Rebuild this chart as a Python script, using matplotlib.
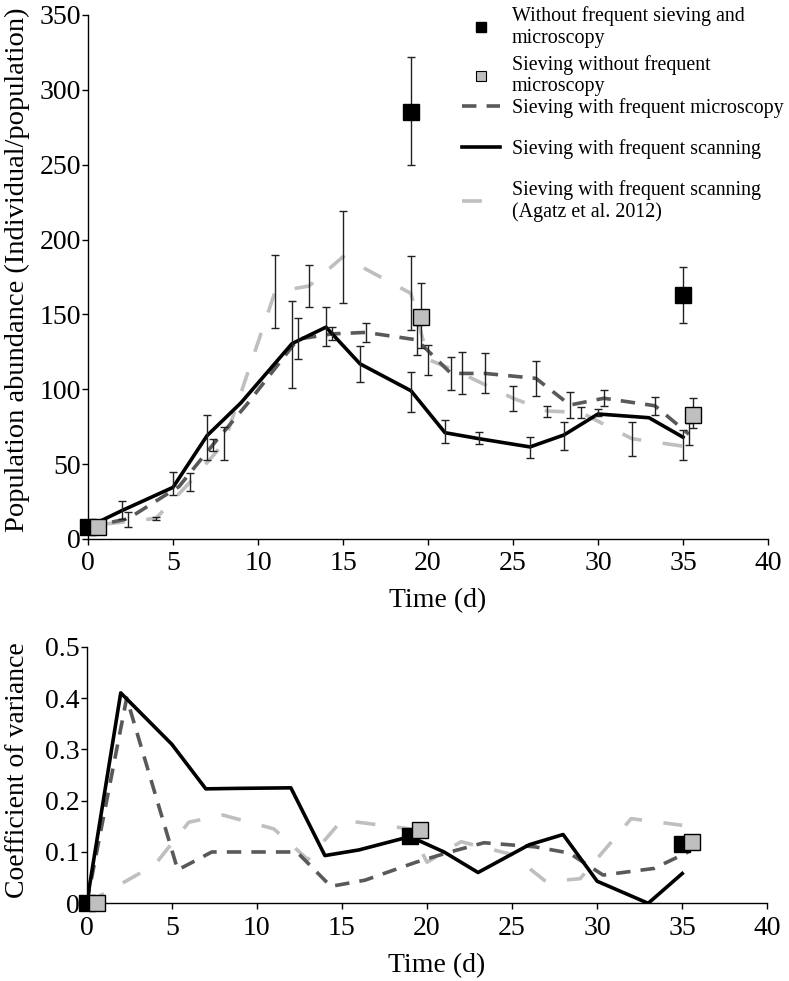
import matplotlib
matplotlib.use("Agg")
import matplotlib.pyplot as plt
import numpy as np
from matplotlib.lines import Line2D
from matplotlib.ticker import FuncFormatter

plt.rcParams["font.family"] = ["Liberation Serif", "DejaVu Serif"]

LABELS = [
    "Without frequent sieving and\nmicroscopy",
    "Sieving without frequent\nmicroscopy",
    "Sieving with frequent microscopy",
    "Sieving with frequent scanning",
    "Sieving with frequent scanning\n(Agatz et al. 2012)",
]

# --- population abundance (top) ---
# sieving with frequent scanning (black solid)
scan_t = [0, 2, 5, 7, 9, 12, 14, 16, 19, 21, 23, 26, 28, 30, 33, 35]
scan_v = [8, 19, 34.5, 69, 91, 130.5, 141.5, 117, 99, 71, 67, 61.5, 69.5, 83.5, 81, 68]
scan_err_t = [2, 5, 7, 12, 14, 16, 19, 21, 23, 26, 28, 30, 35]
scan_err_lo = [13.1, 29.4, 52.7, 100.6, 128.8, 104.6, 85, 63.9, 63.4, 53.9, 59.4, 82.3, 52.7]
scan_err_hi = [25.4, 44.9, 82.8, 158.9, 155.1, 128.8, 111.7, 79.4, 71.2, 68.3, 78.3, 86.6, 72.8]

# sieving with frequent microscopy (dark dashed)
micro_t = [0, 2.35, 5.35, 7.35, 9.35, 12.35, 14.35, 16.35, 19.35, 21.35, 23.35,
           26.35, 28.35, 30.35, 33.35, 35.35]
micro_v = [8, 13.5, 35, 63, 90, 133.5, 137, 138, 133, 110.6, 110.6, 107.3, 89.5, 94, 89, 70]
micro_err_t = [2.35, 7.35, 12.35, 14.35, 16.35, 19.35, 21.35, 23.35, 26.35, 28.35, 30.35, 33.35, 35.35]
micro_err_lo = [8.2, 59, 120, 132.8, 131.7, 122.8, 99.5, 97.3, 95.5, 80.6, 88.8, 82.8, 62.7]
micro_err_hi = [18.2, 67, 147.3, 141.3, 144.4, 142.9, 121.7, 124, 119, 98.3, 99.5, 95, 77.2]

# Agatz et al. 2012 (light grey long dash)
agatz_t = [1, 4, 6, 8, 11, 13, 15, 19, 20, 22, 25, 27, 29, 32, 35]
agatz_v = [10, 13.8, 38, 64, 165, 169, 188.5, 164, 120, 110.5, 94, 85.5, 84.5, 67, 62]
agatz_err_t = [4, 6, 8, 11, 13, 15, 19, 20, 22, 25, 27, 29, 32]
agatz_err_lo = [12.7, 32, 52.7, 141, 154.7, 157.7, 139.5, 109.5, 96.8, 85.4, 81.6, 81, 55.4]
agatz_err_hi = [14.9, 43.9, 75, 189.6, 182.9, 219, 188.9, 129.5, 124.6, 102.3, 89, 88.3, 78.3]

# without frequent sieving and microscopy (black squares)
nosieve_t = [0, 19, 35]
nosieve_v = [7.7, 285, 163]
nosieve_err_lo = [7.7, 249.6, 144]
nosieve_err_hi = [7.7, 322, 181.8]

# sieving without frequent microscopy (grey squares)
sieve_t = [0.6, 19.6, 35.6]
sieve_v = [7.7, 148.4, 82.8]
sieve_err_lo = [7.7, 127.3, 73.9]
sieve_err_hi = [7.7, 170.7, 93.9]

# --- coefficient of variance (bottom) ---
cv_scan = [0, 0.41, 0.31, 0.223, 0.224, 0.225, 0.093, 0.104, 0.13, 0.1, 0.06,
           0.114, 0.134, 0.043, 0.0, 0.058]
cv_micro = [0, 0.40, 0.065, 0.1, 0.1, 0.1, 0.033, 0.045, 0.08, 0.1, 0.118,
            0.11, 0.098, 0.055, 0.068, 0.1]
cv_agatz_t = [0, 4, 6, 8, 11, 13, 15, 19, 20, 22, 25, 27, 29, 32, 35]
cv_agatz = [0, 0.075, 0.158, 0.172, 0.145, 0.085, 0.162, 0.145, 0.08, 0.12,
            0.095, 0.042, 0.048, 0.165, 0.152]
cv_nosieve = [0, 0.131, 0.116]
cv_sieve = [0, 0.143, 0.12]

BLACK = "#000000"
DARK = "#595959"
LIGHT = "#BFBFBF"
LW = 2.6


def style_axis(ax, xlabel_y):
    for s in ["top", "right"]:
        ax.spines[s].set_visible(False)
    for s in ["left", "bottom"]:
        ax.spines[s].set_linewidth(1.0)
    ax.tick_params(direction="out", length=4, width=1, labelsize=20)
    ax.tick_params(axis="y", pad=1)
    ax.tick_params(axis="x", pad=5)
    ax.set_xlim(0, 40)
    ax.set_xticks(np.arange(0, 41, 5))
    ax.set_xlabel("Time (d)", fontsize=20)
    ax.xaxis.set_label_coords(0.514, xlabel_y)


def draw_err(ax, t, lo, hi, color="#222222"):
    lo = np.array(lo)
    hi = np.array(hi)
    ax.errorbar(t, (lo + hi) / 2, yerr=(hi - lo) / 2, fmt="none", ecolor=color,
                elinewidth=1.0, capsize=3, capthick=1.0, zorder=4)


fig = plt.figure(figsize=(7.89, 9.81), dpi=100)
ax1 = fig.add_axes([88 / 789, 1 - 539 / 981, 680 / 789, 524 / 981])
ax2 = fig.add_axes([86.7 / 789, 1 - 903.3 / 981, 680.6 / 789, 256.6 / 981])

# top
ax1.set_ylim(0, 350)
ax1.set_yticks(np.arange(0, 351, 50))
ax1.plot(agatz_t, agatz_v, color=LIGHT, lw=LW, dashes=(5.5, 6), zorder=2)
ax1.plot(micro_t, micro_v, color=DARK, lw=LW, dashes=(4, 2.8), zorder=2)
ax1.plot(scan_t, scan_v, color=BLACK, lw=LW, zorder=3)
draw_err(ax1, agatz_err_t, agatz_err_lo, agatz_err_hi)
draw_err(ax1, micro_err_t, micro_err_lo, micro_err_hi)
draw_err(ax1, scan_err_t, scan_err_lo, scan_err_hi)
draw_err(ax1, nosieve_t[1:], nosieve_err_lo[1:], nosieve_err_hi[1:])
draw_err(ax1, sieve_t[1:], sieve_err_lo[1:], sieve_err_hi[1:])
ax1.plot(nosieve_t, nosieve_v, ls="none", marker="s", ms=12, mfc=BLACK, mec=BLACK,
         zorder=5, clip_on=False)
ax1.plot(sieve_t, sieve_v, ls="none", marker="s", ms=12, mfc=LIGHT, mec=BLACK,
         mew=1.0, zorder=6, clip_on=False)
style_axis(ax1, -0.093)
ax1.set_ylabel("Population abundance (Individual/population)", fontsize=20.5)
ax1.yaxis.set_label_coords(-0.085, 0.513)

# bottom
ax2.set_ylim(0, 0.5)
ax2.set_yticks(np.arange(0, 0.51, 0.1))
ax2.yaxis.set_major_formatter(FuncFormatter(lambda v, p: "0" if abs(v) < 1e-9 else f"{v:.1f}"))
ax2.plot(cv_agatz_t, cv_agatz, color=LIGHT, lw=LW, dashes=(5.5, 6), zorder=2)
ax2.plot(micro_t, cv_micro, color=DARK, lw=LW, dashes=(4, 2.8), zorder=2)
ax2.plot(scan_t, cv_scan, color=BLACK, lw=LW, zorder=3)
ax2.plot(nosieve_t, cv_nosieve, ls="none", marker="s", ms=12, mfc=BLACK, mec=BLACK,
         zorder=5, clip_on=False)
ax2.plot(sieve_t, cv_sieve, ls="none", marker="s", ms=12, mfc=LIGHT, mec=BLACK,
         mew=1.0, zorder=6, clip_on=False)
style_axis(ax2, -0.195)
ax2.set_ylabel("Coefficient of variance", fontsize=20)
ax2.yaxis.set_label_coords(-0.083, 0.519)

handles = [
    Line2D([], [], ls="none", marker="s", ms=7, mfc=BLACK, mec=BLACK),
    Line2D([], [], ls="none", marker="s", ms=7, mfc=LIGHT, mec=BLACK, mew=0.8),
    Line2D([], [], color=DARK, lw=LW, dashes=(4, 2.8)),
    Line2D([], [], color=BLACK, lw=LW),
    Line2D([], [], color=LIGHT, lw=LW, dashes=(5.5, 6)),
]
leg_kw = dict(loc="upper left", frameon=False, fontsize=14.4, handlelength=1.9,
              handletextpad=0.6, borderpad=0, borderaxespad=0)
fig.legend(handles[:2], LABELS[:2], bbox_to_anchor=(462 / 789, 1 - 6 / 981),
           labelspacing=0.35, **leg_kw)
fig.legend(handles[2:], LABELS[2:], bbox_to_anchor=(462 / 789, 1 - 98 / 981),
           labelspacing=1.05, **leg_kw)

fig.savefig("out.png", dpi=100)
